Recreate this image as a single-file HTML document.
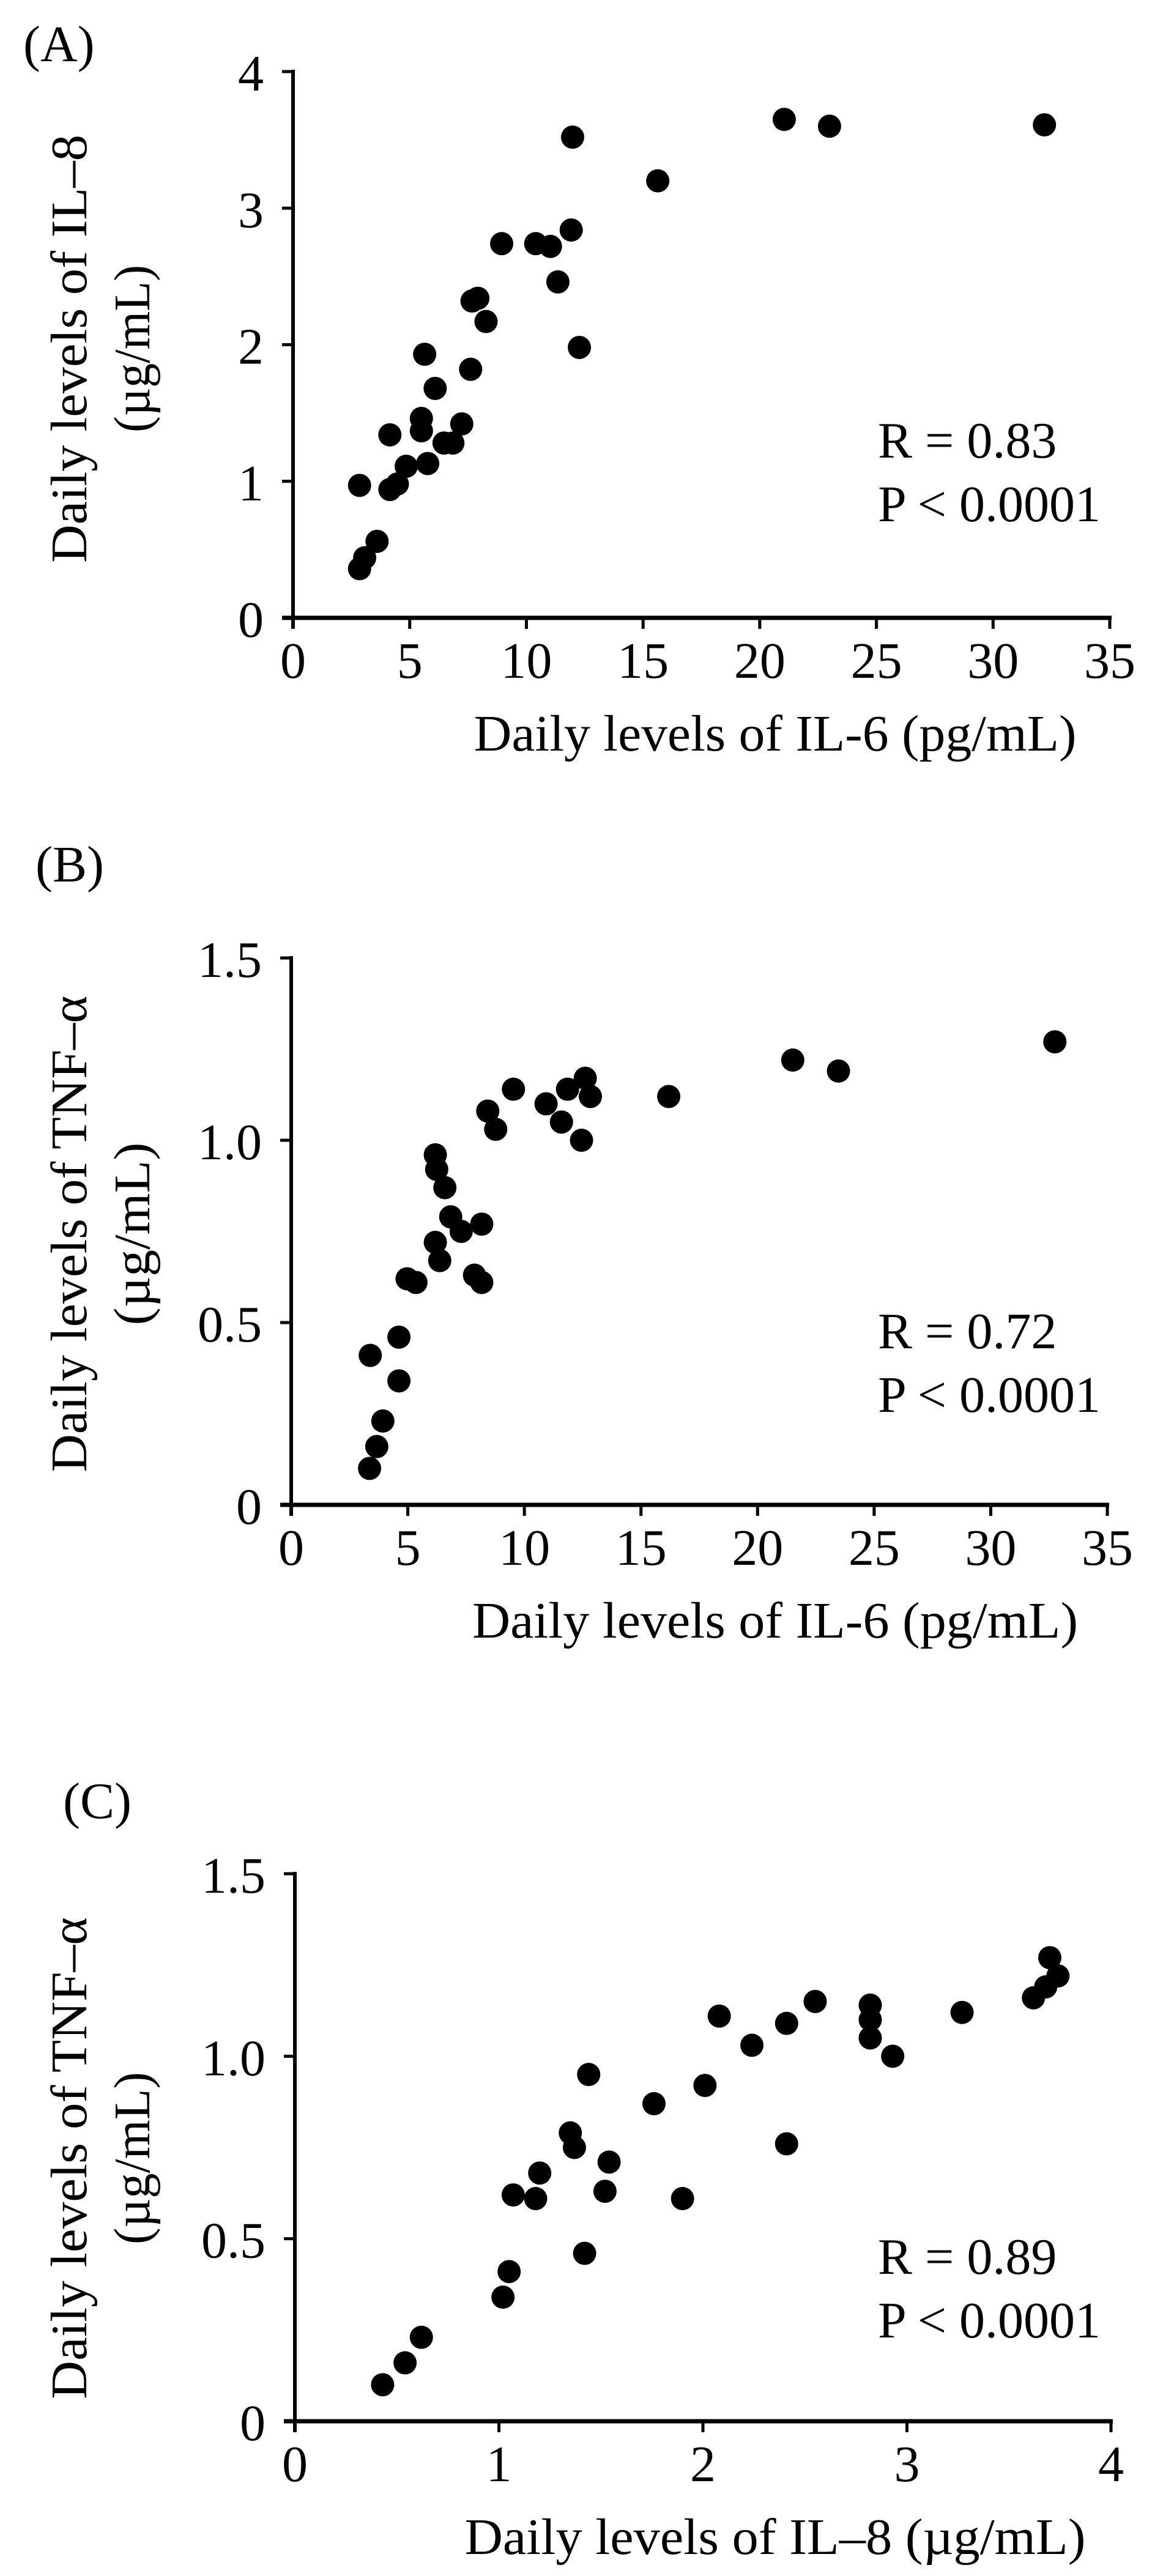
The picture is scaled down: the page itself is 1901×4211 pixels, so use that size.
<!DOCTYPE html>
<html><head><meta charset="utf-8"><style>
html,body{margin:0;padding:0;background:#fff;}
svg{display:block;}
text{font-family:"Liberation Serif","Times New Roman",serif;fill:#000;}
</style></head>
<body>
<svg id="fig" width="1901" height="4211" viewBox="0 0 1901 4211" xmlns="http://www.w3.org/2000/svg"></svg>
<script>
// Panel A: IL-6 vs IL-8
const aX = [2.85,3.07,3.6,2.85,4.15,4.15,4.47,4.85,5.77,5.5,5.5,5.64,6.09,6.47,6.85,7.23,7.61,7.67,7.92,8.27,8.94,10.4,11.03,11.35,11.92,11.98,12.27,15.63,21.05,22.99,32.2];
const aY = [0.36,0.44,0.56,0.97,1.34,0.94,0.98,1.11,1.13,1.46,1.37,1.93,1.68,1.28,1.28,1.42,1.82,2.32,2.34,2.17,2.74,2.74,2.72,2.46,2.84,3.52,1.98,3.2,3.65,3.6,3.61];
// Panel B: IL-6 vs TNF-a
const bX = [3.36,3.67,3.93,3.39,4.62,4.62,4.97,5.35,6.18,6.24,6.59,6.18,6.37,6.84,7.29,8.17,7.86,8.17,8.43,8.77,9.53,10.93,11.59,11.85,12.61,12.83,12.45,16.19,21.51,23.47,32.75];
const bY = [0.10,0.16,0.23,0.41,0.34,0.46,0.62,0.61,0.96,0.92,0.87,0.72,0.67,0.79,0.75,0.77,0.63,0.61,1.08,1.03,1.14,1.10,1.05,1.14,1.17,1.12,1.00,1.12,1.22,1.19,1.27];
// Panel C: IL-8 vs TNF-a
const cX = [0.43,0.54,0.62,1.02,1.05,1.07,1.18,1.20,1.35,1.37,1.42,1.44,1.52,1.54,1.76,1.90,2.01,2.08,2.24,2.41,2.41,2.55,2.82,2.82,2.82,2.93,3.27,3.62,3.68,3.70,3.74];
const cY = [0.10,0.16,0.23,0.34,0.41,0.62,0.61,0.68,0.79,0.75,0.46,0.95,0.63,0.71,0.87,0.61,0.92,1.11,1.03,1.09,0.76,1.15,1.14,1.10,1.05,1.00,1.12,1.16,1.19,1.27,1.22];
const xTicks635 = ["0","5","10","15","20","25","30","35"];
const xTicks04 = ["0","1","2","3","4"];
const yTicksA = ["0","1","2","3","4"];
const yTicksTNF = ["0","0.5","1.0","1.5"];

const NS = "http://www.w3.org/2000/svg";
const svg = document.getElementById('fig');
function mk(tag, attrs, parent){
  const e = document.createElementNS(NS, tag);
  for (const k in attrs) e.setAttribute(k, attrs[k]);
  (parent||svg).appendChild(e);
  return e;
}
function panel(p){
  const g = mk('g', {});
  
  
  const sx = v => p.x0 + (v - p.xmin)/(p.xmax - p.xmin)*(p.x1 - p.x0);
  const sy = v => p.y0 - (v - p.ymin)/(p.ymax - p.ymin)*(p.y0 - p.y1);
  // axes
  const ya = mk('line', {x1:p.x0, y1:p.y1-3, x2:p.x0, y2:p.y0+18, stroke:'#000','stroke-width':6}, g);
  
  
  const xa = mk('line', {x1:p.x0-18, y1:p.y0, x2:p.x1+3, y2:p.y0, stroke:'#000','stroke-width':7}, g);
  
  
  p.xt.forEach(t => {
    const v = parseFloat(t), X = sx(v);
    const tk = mk('line', {x1:X, y1:p.y0, x2:X, y2:p.y0+18, stroke:'#000','stroke-width':5}, g);
    
    
    const tl = mk('text', {x:X, y:p.y0+98, 'font-size':84, 'text-anchor':'middle'}, g);
    tl.textContent = t;
    
    
  });
  p.yt.forEach(t => {
    const v = parseFloat(t), Y = sy(v);
    const tk = mk('line', {x1:p.x0-18, y1:Y, x2:p.x0, y2:Y, stroke:'#000','stroke-width':5}, g);
    
    
    const tl = mk('text', {x:p.x0-48, y:Y+31, 'font-size':84, 'text-anchor':'end'}, g);
    tl.textContent = t;
    
    
  });
  // points
  p.xs.forEach((xv, i) => {
    const c = mk('circle', {cx:sx(xv), cy:sy(p.ys[i]), r:19, fill:'#000'}, g);
    
    
  });
  // panel label
  const lb = mk('text', {x:p.lx, y:p.ly, 'font-size':84}, g);
  lb.textContent = p.label;
  
  
  // x title
  const xt = mk('text', {x:1267, y:p.y0+217, 'font-size':84, 'text-anchor':'middle', textLength:p.xtLen, lengthAdjust:'spacingAndGlyphs'}, g);
  xt.textContent = p.xtitle;
  
  
  // y title
  const yc = p.ycy;
  const y1 = mk('text', {x:0, y:0, 'font-size':84, 'text-anchor':'middle', transform:`translate(141,${yc}) rotate(-90)`, textLength:p.yl1, lengthAdjust:'spacingAndGlyphs'}, g);
  y1.textContent = p.yt1;
  
  
  const y2 = mk('text', {x:0, y:0, 'font-size':84, 'text-anchor':'middle', transform:`translate(244,${yc}) rotate(-90)`, textLength:p.yl2, lengthAdjust:'spacingAndGlyphs'}, g);
  y2.textContent = '(µg/mL)';
  
  
  // stats
  const r = mk('text', {x:1435, y:p.ry, 'font-size':84}, g);
  r.textContent = p.rtext;
  
  
  const pv = mk('text', {x:1435, y:p.ry+104, 'font-size':84}, g);
  pv.textContent = 'P < 0.0001';
  
  
}
panel({name:'panel-a', x0:479, x1:1814, y0:1010, y1:117, xmin:0, xmax:35, ymin:0, ymax:4,
  xt:xTicks635, yt:yTicksA, xs:aX, ys:aY, label:'(A)', lx:38, ly:100,
  xtitle:'Daily levels of IL-6 (pg/mL)', xtLen:985, ycy:570, yt1:'Daily levels of IL–8', yl1:700, yl2:274,
  ry:748, rtext:'R = 0.83'});
panel({name:'panel-b', x0:476, x1:1810, y0:2460, y1:1566, xmin:0, xmax:35, ymin:0, ymax:1.5,
  xt:xTicks635, yt:yTicksTNF, xs:bX, ys:bY, label:'(B)', lx:58, ly:1441,
  xtitle:'Daily levels of IL-6 (pg/mL)', xtLen:990, ycy:2017, yt1:'Daily levels of TNF–α', yl1:779, yl2:299,
  ry:2204, rtext:'R = 0.72'});
panel({name:'panel-c', x0:482, x1:1816, y0:3958, y1:3063, xmin:0, xmax:4, ymin:0, ymax:1.5,
  xt:xTicks04, yt:yTicksTNF, xs:cX, ys:cY, label:'(C)', lx:103, ly:2972,
  xtitle:'Daily levels of IL–8 (µg/mL)', xtLen:1015, ycy:3528, yt1:'Daily levels of TNF–α', yl1:788, yl2:282,
  ry:3717, rtext:'R = 0.89'});
</script>
</body></html>
